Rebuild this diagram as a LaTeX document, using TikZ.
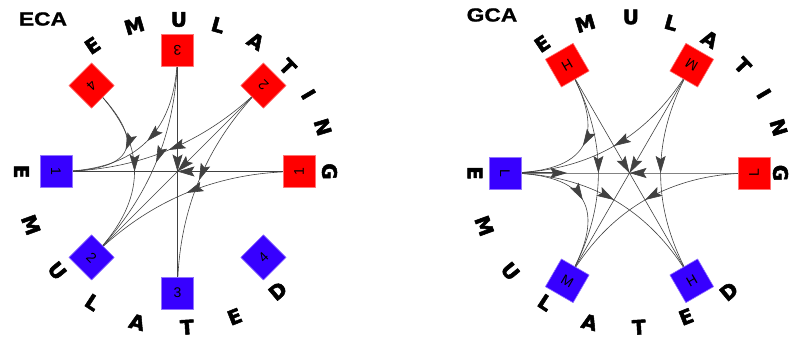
\documentclass[tikz,border=0pt]{standalone}
\usepackage{fontspec}
\setmainfont{Liberation Sans}
\newfontfamily\arcfont{DejaVu Sans}[BoldFeatures={FakeBold=2.5}]
\newfontfamily\capfont{Liberation Sans}[FakeStretch=1.2,BoldFeatures={FakeBold=1}]
\usetikzlibrary{arrows.meta,decorations.markings,calc}
\pgfdeclarelayer{edges}
\pgfsetlayers{edges,main}
\definecolor{emred}{RGB}{255,0,0}
\definecolor{emblue}{RGB}{55,0,255}
\definecolor{edgegray}{RGB}{65,65,65}
\tikzset{
  cell/.style={draw=#1!55!white, line width=0.6pt, fill=#1, minimum size=32pt, inner sep=0pt,
    font=\fontsize{14}{14}\selectfont},
  arcletter/.style={font=\arcfont\bfseries\fontsize{20}{20}\selectfont, inner sep=0pt},
  caption/.style={font=\capfont\bfseries\fontsize{19}{19}\selectfont, inner sep=0pt},
  flow/.style={draw=edgegray, line width=0.6pt,
    decoration={markings, mark=at position 0.5 with {\arrow{Stealth[length=17pt,width=10pt,inset=3pt]}}},
    postaction={decorate}},
  loopflow/.style={draw=edgegray, line width=1pt, -{Stealth[length=17pt,width=10pt,inset=3pt]}},
}
% edge through the circle centre (quadratic curve)
\newcommand\qedge[3]{\draw[flow] (#1.center) .. controls ($(#1.center)!2/3!(#3)$) and ($(#2.center)!2/3!(#3)$) .. (#2.center);}
\begin{document}
\begin{tikzpicture}[x=1pt,y=1pt,line join=round,line cap=round]
  \useasboundingbox (0,0) rectangle (790,339);

  % ECA
  \node[caption] (ecatitle) at (43,320) {ECA};
  \begin{scope}[shift={(177.5,167.5)}]
    \coordinate (eca) at (0,0);
    \node[cell=emred, rotate=90] (eing1) at (0:121.5) {1};
    \node[cell=emred, rotate=135] (eing2) at (45:121.5) {2};
    \node[cell=emred, rotate=180] (eing3) at (90:121.5) {3};
    \node[cell=emred, rotate=225] (eing4) at (135:121.5) {4};
    \node[cell=emblue, rotate=270] (eed1) at (180:121.5) {1};
    \node[cell=emblue, rotate=315] (eed2) at (225:121.5) {2};
    \node[cell=emblue, rotate=0] (eed3) at (270:121.5) {3};
    \node[cell=emblue, rotate=45] (eed4) at (315:121.5) {4};
    \foreach \ch/\ang [count=\k] in {E/124,M/106.5,U/89.5,L/74.5,A/59,T/43.5,I/30.5,N/17,G/0}
      \node[arcletter, rotate=\ang-90] (etop\k) at (\ang:152) {\ch};
    \foreach \ch/\ang [count=\k] in {E/180,M/200,U/219.5,L/237,A/255,T/273.5,E/291.5,D/310}
      \node[arcletter, rotate=\ang+90] (ebot\k) at (\ang:156) {\ch};
    \begin{pgfonlayer}{edges}
      \qedge{eing4}{eed1}{eca}
      \qedge{eing4}{eed2}{eca}
      \qedge{eing3}{eed1}{eca}
      \qedge{eing3}{eed2}{eca}
      \qedge{eing3}{eed3}{eca}
      \qedge{eing2}{eed1}{eca}
      \qedge{eing2}{eed2}{eca}
      \qedge{eing2}{eed3}{eca}
      \qedge{eing1}{eed1}{eca}
      \qedge{eing1}{eed2}{eca}
    \end{pgfonlayer}
  \end{scope}

  % GCA
  \node[caption] (gcatitle) at (492,324) {GCA};
  \begin{scope}[shift={(629.5,166)}]
    \coordinate (gca) at (0,0);
    \node[cell=emred, rotate=90] (gingL) at (0:124.5) {L};
    \node[cell=emred, rotate=150] (gingM) at (60:124.5) {M};
    \node[cell=emred, rotate=210] (gingH) at (120:124.5) {H};
    \node[cell=emblue, rotate=270] (gedL) at (180:124.5) {L};
    \node[cell=emblue, rotate=330] (gedM) at (240:124.5) {M};
    \node[cell=emblue, rotate=30] (gedH) at (300:124.5) {H};
    \foreach \ch/\ang [count=\k] in {E/124,M/106.5,U/89.5,L/74.5,A/59,T/43.5,I/30.5,N/17}
      \node[arcletter, rotate=\ang-90] (gtop\k) at (\ang:156) {\ch};
    \node[arcletter, rotate=-90] (gtop9) at (0:151) {G};
    \foreach \ch/\ang [count=\k] in {E/180,M/200,U/219.5,L/237,A/255,T/273.5,E/291.5,D/310}
      \node[arcletter, rotate=\ang+90] (gbot\k) at (\ang:154.5) {\ch};
    \coordinate (gloop) at ($(gedL.center)!0.5!(gca)$);
    \begin{pgfonlayer}{edges}
      \qedge{gingH}{gedL}{gca}
      \qedge{gingH}{gedM}{gca}
      \qedge{gingH}{gedH}{gca}
      \qedge{gingM}{gedL}{gca}
      \qedge{gingM}{gedM}{gca}
      \qedge{gingM}{gedH}{gca}
      \qedge{gingL}{gedL}{gca}
      \qedge{gingL}{gedM}{gca}
      \qedge{gedL}{gedM}{gca}
      \qedge{gedL}{gedH}{gca}
      \draw[loopflow] (gedL.center) -- (gloop);
    \end{pgfonlayer}
  \end{scope}
\end{tikzpicture}
\end{document}
